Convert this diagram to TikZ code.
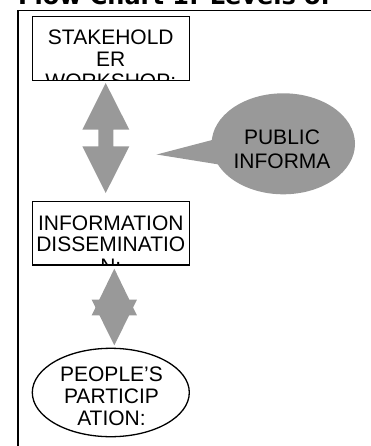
\documentclass[tikz,border=0pt]{standalone}
\usepackage{fontspec}
\setmainfont{Liberation Sans}
\newfontfamily\titlefont{DejaVu Sans}
\usetikzlibrary{shapes.geometric}
\definecolor{shapegray}{RGB}{153,153,153}
\begin{document}
\begin{tikzpicture}[x=1pt,y=-1pt,
  box/.style={draw,line width=1.5pt,minimum width=157pt,inner sep=0pt,outer sep=0pt},
  lbl/.style={align=center,inner sep=0pt,anchor=base},
  blockarrow/.style={fill=shapegray,draw=none}]
\useasboundingbox (0,0) rectangle (371,446);
% title
\node[anchor=base west,inner sep=0pt,font=\titlefont\bfseries\fontsize{24}{24}\selectfont] (title) at (18,5) {Flow Chart 1: Levels of};
% frame
\coordinate (fbl) at (18.3,446);
\coordinate (ftl) at (18.3,10.5);
\coordinate (ftr) at (371,10.5);
\draw[line width=1.7pt] (fbl) -- (ftl) -- (ftr);
% box 1
\node[box,minimum height=64pt] (b1) at (110.8,48.7) {};
\begin{scope}
\clip (b1.south west) rectangle (b1.north east);
\node[lbl,font=\fontsize{21}{21.7}\selectfont] (t1) at (110.8,88.4) {STAKEHOLD\\ER\\WORKSHOP:};
\end{scope}
% arrow 1
\fill[blockarrow] (105.7,83) -- (129.3,129.7) -- (113.3,129.7) -- (113.3,146.3) -- (129.3,146.3) -- (105.7,193)
  -- (82.3,146.3) -- (98.3,146.3) -- (98.3,129.7) -- (82.3,129.7) -- cycle;
% callout
\node[ellipse,fill=shapegray,minimum width=143.4pt,minimum height=101pt,inner sep=0pt] (pub) at (283.3,143.8) {};
\coordinate (tip) at (156.7,154.5);
\fill[blockarrow] (tip) -- (216,139) -- (222,165) -- cycle;
\node[lbl,font=\fontsize{21}{23.3}\selectfont] (pubt) at (282,168.3) {PUBLIC\\INFORMA};
% box 2
\node[box,minimum height=63.3pt] (b2) at (110.8,233.35) {};
\begin{scope}
\clip (b2.south west) rectangle (b2.north east);
\node[lbl,font=\fontsize{21}{21.7}\selectfont] (t2) at (110.8,273.4) {INFORMATION\\DISSEMINATIO\\N:};
\end{scope}
% arrow 2
\fill[blockarrow] (114.3,268.7) -- (136.9,315.3) -- (91.7,315.3) -- cycle;
\fill[blockarrow] (91.7,299.7) -- (136.9,299.7) -- (114.3,345.3) -- cycle;
% ellipse
\node[draw,ellipse,line width=1.3pt,minimum width=157pt,minimum height=88.4pt,inner sep=0pt] (e1) at (110.8,392.5) {};
\node[lbl,font=\fontsize{21}{22}\selectfont] (t3) at (111.5,425) {PEOPLE’S\\PARTICIP\\ATION:};
\end{tikzpicture}
\end{document}
